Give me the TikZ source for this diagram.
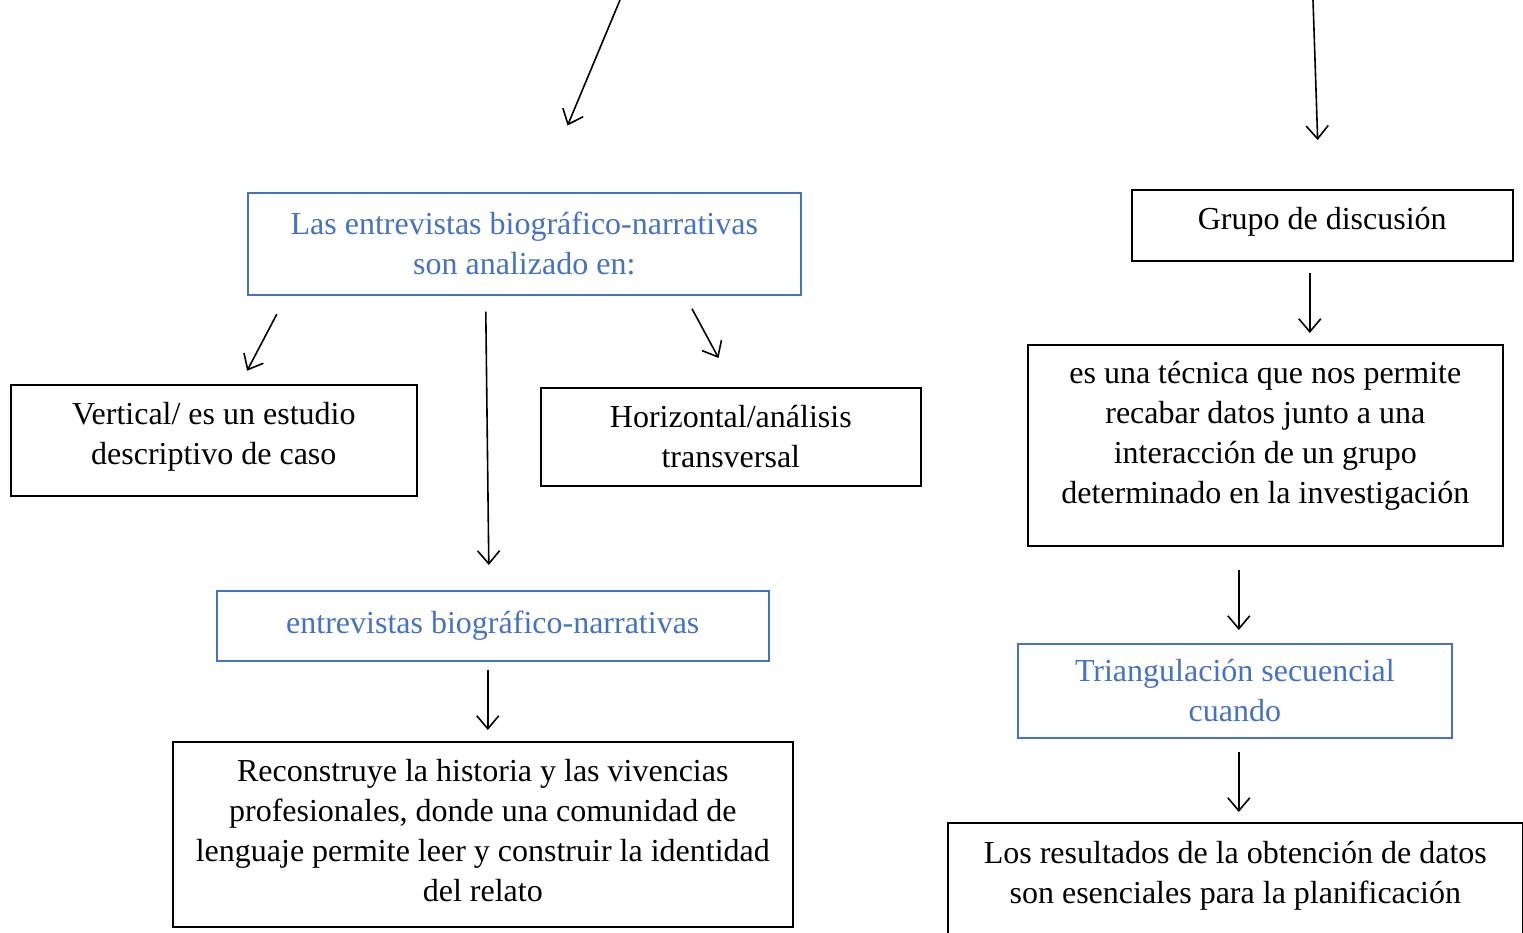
\documentclass[tikz,border=0pt]{standalone}
\usepackage{fontspec}
\setmainfont{Liberation Serif}
\usetikzlibrary{arrows.meta}
\definecolor{azul}{HTML}{4472C4}

\begin{document}
\begin{tikzpicture}[x=1pt,y=-1pt,
  caja/.style={draw,line width=1.6pt,align=center,inner sep=0pt,anchor=north west,
    font=\fontsize{32}{40}\selectfont},
  cajaazul/.style={caja,draw=azul,text=azul},
  flecha/.style={-{Straight Barb[length=13pt,width=22pt]},line width=1.6pt}]
  \useasboundingbox (0,0) rectangle (1523,932);
  \clip (0,0) rectangle (1523,932);

  % left column
  \node[cajaazul,minimum width=553pt,minimum height=102pt] (analisis) at (247,192)
    {Las entrevistas biográfico-narrativas\\son analizado en:};
  \node[caja,minimum width=406pt,minimum height=111pt,text depth=14pt] (vertical) at (10,384)
    {Vertical/ es un estudio\\descriptivo de caso};
  \node[caja,minimum width=380pt,minimum height=98pt] (horizontal) at (540,387)
    {Horizontal/análisis\\transversal};
  \node[cajaazul,minimum width=552pt,minimum height=70pt] (entrevistas) at (216,590)
    {entrevistas biográfico-narrativas};
  \node[caja,minimum width=620pt,minimum height=185pt,text depth=8pt] (reconstruye) at (172,741)
    {Reconstruye la historia y las vivencias\\profesionales, donde una comunidad de\\lenguaje permite leer y construir la identidad\\del relato};

  % right column
  \node[caja,minimum width=381pt,minimum height=71pt,text depth=13pt] (grupo) at (1131,189)
    {Grupo de discusión};
  \node[caja,minimum width=475pt,minimum height=201pt,text depth=25pt] (tecnica) at (1027,344)
    {es una técnica que nos permite\\recabar datos junto a una\\interacción de un grupo\\determinado en la investigación};
  \node[cajaazul,minimum width=434pt,minimum height=94pt] (triangulacion) at (1017,643)
    {Triangulación secuencial\\cuando};
  \node[caja,minimum width=575pt,text height=81pt,text depth=150pt] (resultados) at (947,822)
    {Los resultados de la obtención de datos\\son esenciales para la planificación};

  \coordinate (ini1) at (620,0);
  \coordinate (ini2) at (1313,0);

  \draw[flecha,shorten >=72pt] (ini1) -- ([xshift=15.5pt]analisis.north);
  \draw[flecha,shorten >=49pt] (ini2) -- ([xshift=-3pt]grupo.north);

  \draw[flecha,shorten <=21pt,shorten >=15pt] ([xshift=-237.7pt]analisis.south) -- ([xshift=26.3pt]vertical.north);
  \draw[flecha,shorten <=16pt,shorten >=25pt] ([xshift=-38.7pt]analisis.south) -- ([xshift=-3.7pt]entrevistas.north);
  \draw[flecha,shorten <=15pt,shorten >=33pt] ([xshift=160.6pt]analisis.south) -- ([xshift=3.4pt]horizontal.north);
  \draw[flecha,shorten <=8pt,shorten >=11pt] ([xshift=-5pt]entrevistas.south) -- ([xshift=5pt]reconstruye.north);

  \draw[flecha,shorten <=11pt,shorten >=11pt] ([xshift=-12.5pt]grupo.south) -- ([xshift=44.5pt]tecnica.north);
  \draw[flecha,shorten <=23pt,shorten >=13pt] ([xshift=-26.5pt]tecnica.south) -- ([xshift=4pt]triangulacion.north);
  \draw[flecha,shorten <=13pt,shorten >=10pt] ([xshift=4pt]triangulacion.south) -- ([xshift=3.5pt]resultados.north);
\end{tikzpicture}
\end{document}
